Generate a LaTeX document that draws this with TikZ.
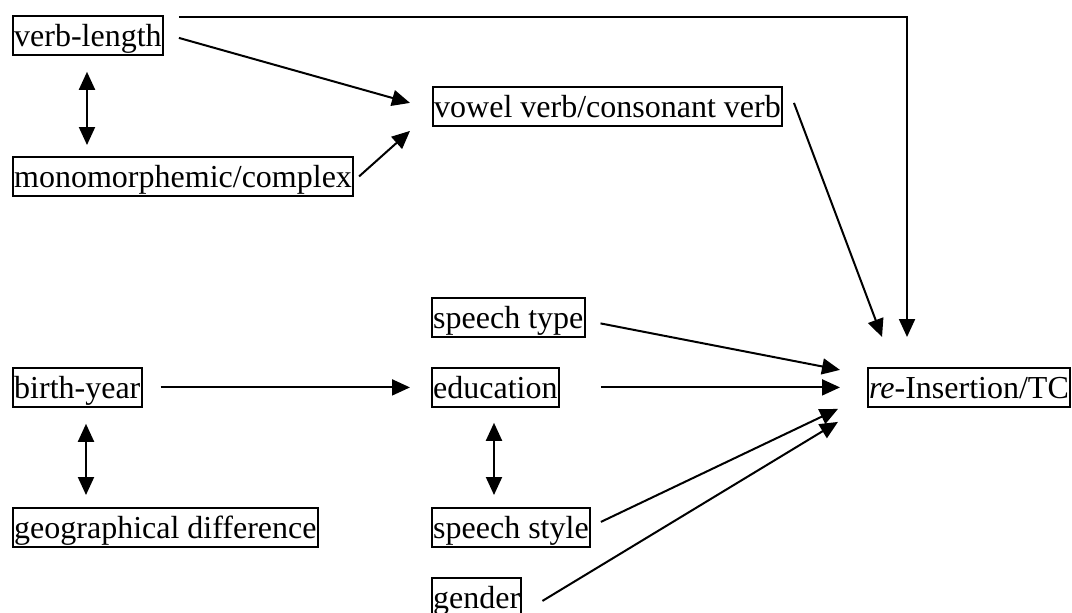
\documentclass[tikz,border=0pt]{standalone}
\usepackage{fontspec}
\setmainfont{Liberation Serif}
\usetikzlibrary{arrows.meta,calc}
\begin{document}
\begin{tikzpicture}[x=0.5pt,y=-0.5pt,
  box/.style={draw,line width=1pt,anchor=north west,inner xsep=0.6pt,inner ysep=0.4pt,
    font=\fontsize{16}{19}\selectfont,text height=15pt,text depth=3.6pt},
  conn/.style={line width=1pt,-{Triangle[length=9pt,width=8pt]}},
  biconn/.style={line width=1pt,{Triangle[length=9pt,width=8pt]}-{Triangle[length=9pt,width=8pt]}}]
\useasboundingbox (0,0) rectangle (1072,612);
\begin{scope}
\clip (0,0) rectangle (1072,612);
\node[box] (vl) at (12,15) {verb-length};
\node[box] (mono) at (12,156) {monomorphemic/complex};
\node[box] (vowel) at (432,86) {vowel verb/consonant verb};
\node[box] (stype) at (431,297) {speech type};
\node[box] (edu) at (431,367) {education};
\node[box] (sstyle) at (431,507) {speech style};
\node[box] (gender) at (431,577) {gender};
\node[box] (birth) at (12,367) {birth-year};
\node[box] (geo) at (12,507) {geographical difference};
\node[box] (re) at (867,367) {\emph{re}-Insertion/TC};
\end{scope}
% connectors
\draw[conn] ($(vl.north east)+(15,2)$) -| ($(re.north)+(-62,-30)$);
\draw[conn] ($(vl.east)+(15,2.5)$) -- ($(vowel.west)+(-22,-3.5)$);
\draw[conn] ($(mono.east)+(5,0)$) -- ($(vowel.west)+(-22,24.5)$);
\draw[biconn] ($(vl.south west)+(75,16)$) -- ($(mono.north west)+(75,-11)$);
\draw[conn] ($(vowel.east)+(11,-3.5)$) -- ($(re.north)+(-87,-30)$);
\draw[conn] ($(stype.east)+(15,6)$) -- ($(re.west)+(-27,-17.5)$);
\draw[conn] ($(edu.east)+(41,0)$) -- ($(re.west)+(-27,0)$);
\draw[conn] ($(sstyle.east)+(10,-5.5)$) -- ($(re.west)+(-29,21.5)$);
\draw[conn] ($(gender.east)+(20,3.5)$) -- ($(re.west)+(-29,34.5)$);
\draw[conn] ($(birth.east)+(18,0)$) -- ($(edu.west)+(-21,0)$);
\draw[biconn] ($(birth.south west)+(74,16)$) -- ($(geo.north west)+(74,-12)$);
\draw[biconn] ($(edu.south west)+(63,15)$) -- ($(sstyle.north west)+(63,-12)$);
\end{tikzpicture}
\end{document}
